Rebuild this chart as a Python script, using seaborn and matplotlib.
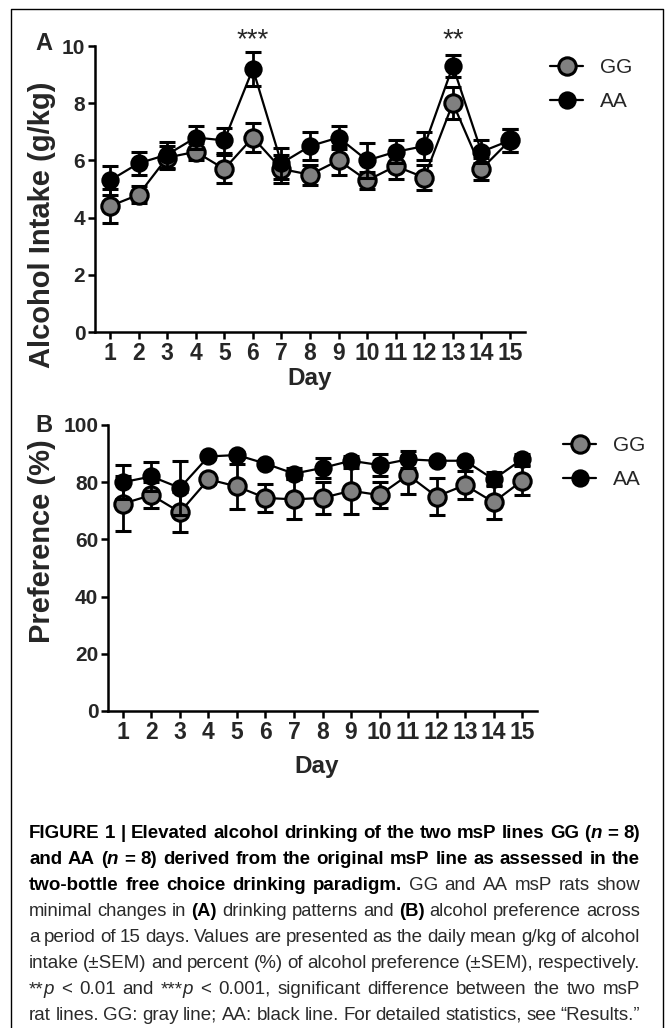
import matplotlib
matplotlib.use('Agg')
import pandas as pd
import matplotlib.pyplot as plt
import seaborn as sns
from matplotlib.lines import Line2D

days = list(range(1, 16))
groups = ['GG', 'AA']

# panel A: alcohol intake (g/kg), mean and SEM
gg_intake = [4.4, 4.8, 6.1, 6.3, 5.7, 6.8, 5.7, 5.5, 6.0, 5.3, 5.8, 5.4, 8.0, 5.7, 6.7]
gg_intake_sem = [0.6, 0.3, 0.4, 0.3, 0.5, 0.5, 0.5, 0.35, 0.5, 0.3, 0.45, 0.45, 0.55, 0.4, 0.4]
aa_intake = [5.3, 5.9, 6.2, 6.8, 6.7, 9.2, 5.9, 6.5, 6.8, 6.0, 6.3, 6.5, 9.3, 6.3, 6.7]
aa_intake_sem = [0.5, 0.4, 0.45, 0.4, 0.45, 0.6, 0.55, 0.5, 0.4, 0.6, 0.4, 0.5, 0.4, 0.4, 0.4]

# panel B: preference (%), mean and SEM
gg_pref = [72.5, 75.5, 69.5, 81, 78.5, 74.5, 74, 74.5, 77, 75.5, 82.5, 75, 79, 73, 80.5]
gg_pref_sem = [9.5, 4.5, 7, 1.5, 8, 5, 7, 5.5, 8, 4.5, 6.5, 6.5, 5, 6, 5]
aa_pref = [80, 82, 78, 89, 89.5, 86.5, 83, 85, 87.5, 86, 88, 87.5, 87.5, 81, 88]
aa_pref_sem = [6, 5, 9.5, 1, 1, 1, 2, 3.5, 1.5, 4, 3, 1, 1, 2.5, 2]

stars = {6: '***', 13: '**'}

W, H = 668, 1028
sns.set_style('ticks')
plt.rcParams['font.family'] = ['Liberation Sans', 'DejaVu Sans']

fig = plt.figure(figsize=(W / 100, H / 100), dpi=100)


def fx(x):
    return x / W


def fy(y):
    return 1 - y / H


face = {'GG': '#808080', 'AA': 'black'}
msize = {'GG': 12.5, 'AA': 11}


def draw_panel(ax, gg, gg_sem, aa, aa_sem, ymax, ystep):
    df = pd.DataFrame({'Day': days * 2,
                       'value': gg + aa,
                       'sem': gg_sem + aa_sem,
                       'line': ['GG'] * 15 + ['AA'] * 15})
    z = 2
    for name in groups:
        sub = df[df['line'] == name]
        ax.errorbar(sub['Day'], sub['value'], yerr=sub['sem'], fmt='none',
                    ecolor='black', elinewidth=2, capsize=5.5, capthick=2.2, zorder=z)
        sns.lineplot(data=sub, x='Day', y='value', ax=ax, color='black', lw=1.6,
                     marker='o', markersize=msize[name], markerfacecolor=face[name],
                     markeredgecolor='black', markeredgewidth=2.2, zorder=z + 1,
                     errorbar=None, legend=False)
        z += 2
    ax.set_xlim(0.475, 15.525)
    ax.set_ylim(0, ymax)
    ax.set_xticks(days)
    ax.set_yticks(range(0, ymax + 1, ystep))
    ax.set_xlabel('')
    ax.set_ylabel('')
    ax.spines[['top', 'right']].set_visible(False)
    for s in ['left', 'bottom']:
        ax.spines[s].set_linewidth(1.8)
        ax.spines[s].set_color('black')
    ax.tick_params(axis='both', direction='out', length=5, width=1.8, color='black')
    ax.tick_params(axis='x', labelsize=16.5, pad=2)
    ax.tick_params(axis='y', labelsize=15, pad=2)
    for lbl in ax.get_xticklabels() + ax.get_yticklabels():
        lbl.set_fontweight('bold')
    ax.set_facecolor('none')

    handles = [Line2D([], [], color='black', lw=1.6, marker='o', markersize=msize[g],
                      markerfacecolor=face[g], markeredgecolor='black',
                      markeredgewidth=2.2) for g in groups]
    return handles


axA = fig.add_axes([fx(95), fy(332), fx(525) - fx(95), fy(46) - fy(332)])
hA = draw_panel(axA, gg_intake, gg_intake_sem, aa_intake, aa_intake_sem, 10, 2)
for d, s in stars.items():
    axA.text(d, 9.97, s, ha='center', va='baseline', fontsize=20)
axA.legend(hA, groups, loc='upper left', bbox_to_anchor=(fx(550), fy(58)),
           bbox_transform=fig.transFigure, frameon=False, fontsize=15,
           handlelength=1.6, handletextpad=0.8, labelspacing=0.72,
           borderpad=0, borderaxespad=0)

axB = fig.add_axes([fx(108), fy(711), fx(537) - fx(108), fy(425) - fy(711)])
hB = draw_panel(axB, gg_pref, gg_pref_sem, aa_pref, aa_pref_sem, 100, 20)
axB.legend(hB, groups, loc='upper left', bbox_to_anchor=(fx(563), fy(436)),
           bbox_transform=fig.transFigure, frameon=False, fontsize=15,
           handlelength=1.6, handletextpad=0.8, labelspacing=0.72,
           borderpad=0, borderaxespad=0)

# axis titles and panel letters
fig.text(fx(42), fy(225), 'Alcohol Intake (g/kg)', rotation=90, ha='center', va='center',
         fontsize=21, fontweight='bold')
fig.text(fx(42), fy(541), 'Preference (%)', rotation=90, ha='center', va='center',
         fontsize=21, fontweight='bold')
fig.text(fx(310), fy(378), 'Day', ha='center', va='center', fontsize=17.5, fontweight='bold')
fig.text(fx(317), fy(766), 'Day', ha='center', va='center', fontsize=17.5, fontweight='bold')
fig.text(fx(44), fy(44), 'A', ha='center', va='center', fontsize=17, fontweight='bold')
fig.text(fx(44), fy(425), 'B', ha='center', va='center', fontsize=17, fontweight='bold')

# frame around the figure
fig.add_artist(Line2D([fx(11), fx(11), fx(663), fx(663)], [fy(1040), fy(9), fy(9), fy(1040)],
                      transform=fig.transFigure, color='black', lw=1))

# caption, justified line by line
B, R, BI, I = ('bold', 'normal'), ('normal', 'normal'), ('bold', 'italic'), ('normal', 'italic')


def words(text, st):
    return [[(w, st)] for w in text.split()]


cap_lines = [
    words('FIGURE 1 | Elevated alcohol drinking of the two msP lines GG', B)
    + [[('(', B), ('n', BI)], [('=', B)], [('8)', B)]],
    words('and AA', B) + [[('(', B), ('n', BI)], [('=', B)], [('8)', B)]]
    + words('derived from the original msP line as assessed in the', B),
    words('two-bottle free choice drinking paradigm.', B) + words('GG and AA msP rats show', R),
    words('minimal changes in', R) + words('(A)', B) + words('drinking patterns and', R)
    + words('(B)', B) + words('alcohol preference across', R),
    words('a period of 15 days. Values are presented as the daily mean g/kg of alcohol', R),
    words('intake (\u00b1SEM) and percent (%) of alcohol preference (\u00b1SEM), respectively.', R),
    [[('**', R), ('p', I)], [('<', R)], [('0.01', R)], [('and', R)], [('***', R), ('p', I)],
     [('<', R)]] + words('0.001, significant difference between the two msP', R),
    words('rat lines. GG: gray line; AA: black line. For detailed statistics, see \u201cResults.\u201d', R),
]

renderer = fig.canvas.get_renderer()
x0, x1 = 29, 640


def caption_line(y, line, size):
    while True:
        arts = []
        for word in line:
            ws = []
            for txt, (wt, st) in word:
                col = 'black' if wt == 'bold' else '#2a2a2a'
                t = fig.text(0, fy(y), txt, fontsize=size, fontweight=wt, fontstyle=st,
                             va='baseline', ha='left', color=col)
                ws.append((t, t.get_window_extent(renderer).width))
            arts.append(ws)
        total = sum(w for ws in arts for _, w in ws)
        gap = (x1 - x0 - total) / (len(arts) - 1)
        if gap >= size * 100 / 72 * 0.22 or size < 9:
            break
        for ws in arts:
            for t, _ in ws:
                t.remove()
        size -= 0.25
    x = x0
    for ws in arts:
        for t, w in ws:
            t.set_x(fx(x))
            x += w
        x += gap


for i, line in enumerate(cap_lines):
    caption_line(838 + 26 * i, line, 13.5)

fig.savefig('out.png', dpi=100)
